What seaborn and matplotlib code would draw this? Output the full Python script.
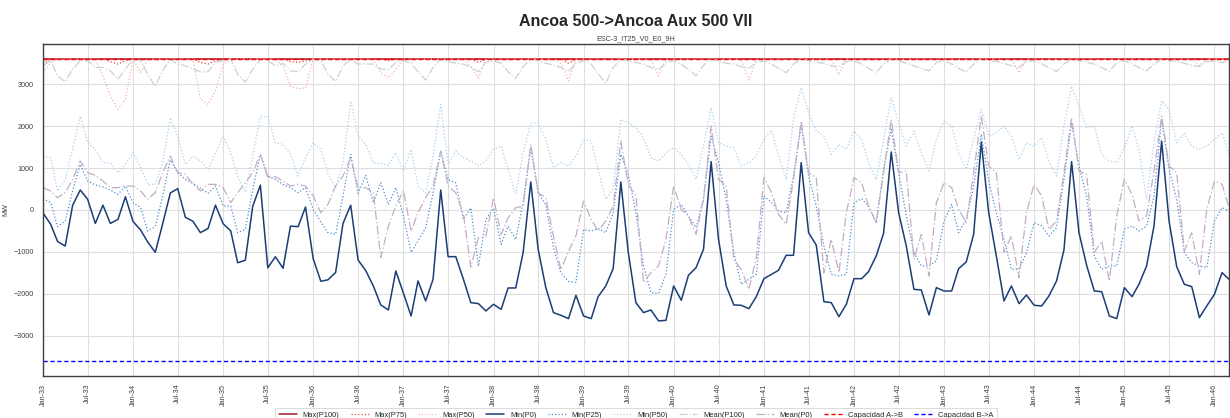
import matplotlib
matplotlib.use("Agg")
import matplotlib.pyplot as plt
import matplotlib.dates as mdates
import pandas as pd
import seaborn as sns

# ---------------- data (MW, monthly Jan-2033 .. Mar-2046) ----------------
start_month = "2033-01-01"
n_months = 159

title = "Ancoa 500->Ancoa Aux 500 VII"
subtitle = "ESC-3_IT25_V0_E0_9H"
y_label = "MW"

cap_ab = 3600
cap_ba = -3600

max_p100 = [
    3600, 3600, 3600, 3600, 3600, 3600, 3600, 3600, 3600, 3600, 3600, 3600,
    3600, 3600, 3600, 3600, 3600, 3600, 3600, 3600, 3600, 3600, 3600, 3600,
    3600, 3600, 3600, 3600, 3600, 3600, 3600, 3600, 3600, 3600, 3600, 3600,
    3600, 3600, 3600, 3600, 3600, 3600, 3600, 3600, 3600, 3600, 3600, 3600,
    3600, 3600, 3600, 3600, 3600, 3600, 3600, 3600, 3600, 3600, 3600, 3600,
    3600, 3600, 3600, 3600, 3600, 3600, 3600, 3600, 3600, 3600, 3600, 3600,
    3600, 3600, 3600, 3600, 3600, 3600, 3600, 3600, 3600, 3600, 3600, 3600,
    3600, 3600, 3600, 3600, 3600, 3600, 3600, 3600, 3600, 3600, 3600, 3600,
    3600, 3600, 3600, 3600, 3600, 3600, 3600, 3600, 3600, 3600, 3600, 3600,
    3600, 3600, 3600, 3600, 3600, 3600, 3600, 3600, 3600, 3600, 3600, 3600,
    3600, 3600, 3600, 3600, 3600, 3600, 3600, 3600, 3600, 3600, 3600, 3600,
    3600, 3600, 3600, 3600, 3600, 3600, 3600, 3600, 3600, 3600, 3600, 3600,
    3600, 3600, 3600, 3600, 3600, 3600, 3600, 3600, 3600, 3600, 3600, 3600,
    3600, 3600, 3600,
]

max_p75 = [
    3480, 3600, 3600, 3600, 3600, 3600, 3600, 3600, 3600, 3540, 3480, 3560,
    3600, 3600, 3600, 3600, 3600, 3600, 3600, 3600, 3600, 3520, 3480, 3560,
    3600, 3600, 3600, 3600, 3600, 3600, 3600, 3600, 3600, 3540, 3520, 3560,
    3600, 3600, 3600, 3600, 3600, 3600, 3600, 3600, 3600, 3600, 3560, 3600,
    3600, 3600, 3600, 3600, 3600, 3600, 3600, 3600, 3600, 3600, 3520, 3600,
    3600, 3600, 3600, 3600, 3600, 3600, 3600, 3600, 3600, 3600, 3500, 3600,
    3600, 3600, 3600, 3600, 3600, 3600, 3600, 3600, 3600, 3600, 3600, 3600,
    3600, 3600, 3600, 3600, 3600, 3600, 3600, 3600, 3600, 3600, 3600, 3600,
    3600, 3600, 3600, 3600, 3600, 3600, 3600, 3600, 3600, 3600, 3600, 3600,
    3600, 3600, 3600, 3600, 3600, 3600, 3600, 3600, 3600, 3600, 3600, 3600,
    3600, 3600, 3600, 3600, 3600, 3600, 3600, 3600, 3600, 3600, 3600, 3600,
    3600, 3600, 3600, 3600, 3600, 3600, 3600, 3600, 3600, 3600, 3600, 3600,
    3600, 3600, 3600, 3600, 3600, 3600, 3600, 3600, 3600, 3600, 3600, 3600,
    3600, 3600, 3600,
]

max_p50 = [
    3275, 3510, 3600, 3600, 3600, 3600, 3600, 3600, 3195, 2718, 2400, 2639,
    3600, 3280, 3600, 3600, 3600, 3600, 3600, 3600, 3600, 2640, 2520, 2837,
    3470, 3600, 3600, 3600, 3600, 3600, 3600, 3600, 3430, 2950, 2890, 2916,
    3600, 3600, 3600, 3600, 3600, 3600, 3600, 3600, 3600, 3275, 3155, 3355,
    3600, 3600, 3600, 3600, 3600, 3600, 3600, 3600, 3600, 3430, 3150, 3600,
    3600, 3600, 3600, 3600, 3600, 3600, 3600, 3600, 3600, 3500, 3080, 3600,
    3600, 3600, 3600, 3600, 3600, 3600, 3600, 3600, 3600, 3600, 3200, 3600,
    3600, 3600, 3600, 3600, 3600, 3600, 3600, 3600, 3600, 3600, 3100, 3600,
    3600, 3600, 3600, 3600, 3600, 3600, 3600, 3600, 3600, 3600, 3230, 3600,
    3600, 3600, 3600, 3600, 3600, 3600, 3600, 3600, 3600, 3600, 3600, 3600,
    3600, 3600, 3600, 3600, 3600, 3600, 3600, 3600, 3600, 3600, 3270, 3600,
    3600, 3600, 3600, 3600, 3600, 3600, 3600, 3600, 3600, 3600, 3600, 3600,
    3600, 3600, 3600, 3600, 3600, 3600, 3600, 3600, 3600, 3600, 3440, 3600,
    3600, 3600, 3600,
]

min_p0 = [
    -70, -340, -750, -860, 110, 478, 255, -320, 115, -320, -223, 315,
    -275, -480, -760, -1010, -330, 405, 510, -175, -270, -540, -440, 115,
    -327, -500, -1258, -1200, 88, 593, -1380, -1115, -1390, -385, -397, 72,
    -1160, -1700, -1665, -1490, -320, 115, -1193, -1445, -1814, -2265, -2385, -1455,
    -1987, -2528, -1693, -2170, -1653, 477, -1113, -1113, -1653, -2210, -2234, -2408,
    -2250, -2369, -1860, -1860, -1017, 668, -938, -1852, -2448, -2512, -2591, -2035,
    -2528, -2591, -2067, -1812, -1400, 668, -1000, -2210, -2448, -2385, -2647, -2631,
    -1812, -2154, -1558, -1375, -938, 1153, -700, -1812, -2265, -2273, -2353, -2067,
    -1638, -1534, -1439, -1081, -1081, 1129, -541, -835, -2186, -2210, -2544, -2250,
    -1638, -1638, -1471, -1097, -556, 1383, -64, -859, -1892, -1908, -2504, -1852,
    -1932, -1932, -1400, -1240, -580, 1622, -64, -1097, -2170, -1812, -2234, -2027,
    -2273, -2289, -2051, -1693, -954, 1153, -541, -1320, -1932, -1948, -2528, -2591,
    -1852, -2067, -1773, -1335, -382, 1645, -262, -1351, -1773, -1828, -2567, -2289,
    -2011, -1494, -1653,
]

min_p25 = [
    270, 175, -397, -262, 453, 1089, 692, 596, 548, 477, 374, 572,
    175, 56, -500, -397, 334, 1192, 890, 731, 636, 517, 397, 572,
    95, 95, -540, -461, 477, 1327, 811, 731, 612, 533, 413, 533,
    16, -286, -540, -580, 334, 1327, 397, 827, 175, 652, 135, 533,
    -143, -1010, -740, -420, 411, 1407, 720, 650, -225, 52, -1340, -225,
    40, -822, -385, -703, 175, 1480, 413, 120, -900, -1503, -1703, -1727,
    -467, -500, -445, -541, -64, 1327, 850, -64, -1335, -1971, -1987, -1534,
    16, 135, -143, -421, 254, 1765, 1129, 254, -1017, -1773, -1653, -1534,
    334, 175, -24, -64, 811, 2043, 811, 95, -859, -1534, -1574, -1534,
    175, 270, 95, -302, 970, 1924, 890, -143, -1017, -1335, -1335, -1216,
    -262, 135, -541, -223, 572, 1804, 692, -64, -700, -1415, -1415, -1017,
    -302, -382, -620, -421, 731, 2083, 1049, 334, -1097, -1415, -1335, -1335,
    -461, -382, -500, -382, 334, 2162, 970, 254, -1017, -1256, -1335, -1375,
    -262, 56, -24,
]

min_p50 = [
    1288, 1248, 453, 731, 1447, 2242, 1606, 1447, 1129, 1129, 890, 1089,
    1367, 1010, 612, 612, 1129, 2202, 1765, 1089, 1288, 1169, 970, 1367,
    1765, 1367, 811, 413, 1288, 2226, 2226, 1606, 1566, 1327, 811, 1248,
    1606, 1447, 850, 533, 1129, 2600, 1765, 1566, 1129, 1113, 1065, 1367,
    930, 1447, 572, 413, 1288, 2520, 1089, 1407, 1248, 1169, 1049, 1169,
    1447, 1526, 970, 374, 1367, 2067, 2083, 1685, 1010, 1129, 1049, 1288,
    1685, 1645, 970, 254, 493, 2162, 2083, 1963, 1725, 1248, 1169, 1367,
    1486, 1327, 1089, 731, 1526, 2440, 1606, 1526, 1486, 1049, 1129, 1288,
    1685, 1908, 1288, 731, 2162, 2917, 2321, 1884, 1765, 1327, 1566, 1447,
    1884, 1685, 1129, 731, 1685, 2679, 2083, 1526, 1884, 1367, 930, 1685,
    2122, 2003, 1367, 970, 1685, 2401, 1765, 1844, 2003, 1765, 1208, 1606,
    1526, 1725, 1169, 811, 2003, 2957, 2480, 1963, 2003, 1327, 1169, 1129,
    1486, 2003, 1447, 254, 1606, 2600, 2401, 1606, 1844, 1526, 1447, 1526,
    1685, 1844, 1327,
]

mean_p100 = [
    3440, 3560, 3200, 3057, 3361, 3560, 3560, 3400, 3400, 3320, 3122, 3361,
    3600, 3560, 3241, 2950, 3320, 3600, 3481, 3440, 3361, 3297, 3297, 3521,
    3560, 3600, 3241, 3050, 3361, 3600, 3560, 3440, 3500, 3320, 3300, 3480,
    3600, 3560, 3241, 3070, 3440, 3600, 3481, 3481, 3481, 3361, 3355, 3521,
    3560, 3500, 3300, 3100, 3400, 3600, 3550, 3500, 3480, 3400, 3300, 3520,
    3560, 3500, 3300, 3140, 3420, 3600, 3560, 3500, 3460, 3400, 3300, 3500,
    3560, 3480, 3250, 3030, 3400, 3600, 3560, 3520, 3480, 3400, 3350, 3520,
    3560, 3480, 3350, 3205, 3450, 3600, 3560, 3500, 3480, 3420, 3380, 3520,
    3560, 3480, 3380, 3275, 3480, 3600, 3560, 3520, 3500, 3440, 3420, 3540,
    3560, 3480, 3380, 3280, 3480, 3600, 3560, 3500, 3440, 3380, 3320, 3520,
    3560, 3480, 3380, 3297, 3480, 3600, 3560, 3540, 3500, 3440, 3400, 3540,
    3560, 3480, 3400, 3305, 3480, 3600, 3560, 3520, 3480, 3400, 3310, 3520,
    3560, 3480, 3400, 3320, 3480, 3600, 3560, 3540, 3500, 3450, 3420, 3540,
    3560, 3520, 3560,
]

mean_p0 = [
    533, 453, 294, 413, 731, 1169, 890, 827, 692, 533, 533, 572,
    572, 453, 254, 413, 890, 1288, 890, 850, 612, 453, 612, 612,
    533, 175, 413, 652, 890, 1327, 771, 795, 692, 572, 612, 572,
    334, -64, 135, 572, 811, 1248, 533, 533, 413, -1137, -382, 95,
    460, -505, -64, 300, 572, 1407, 572, 411, -103, -1360, -660, -627,
    292, -586, -187, 52, 92, 1567, 411, 292, -626, -1424, -985, -620,
    211, -223, -500, -262, 95, 1645, 600, 350, -1733, -1494, -1335, -700,
    572, 16, -143, -580, 254, 2003, 731, 572, -1176, -1415, -1892, -1137,
    771, 413, -103, -342, 731, 2122, 890, 771, -1494, -700, -1494, -64,
    771, 652, 95, -302, 890, 2162, 890, 930, -1176, -580, -1574, 175,
    652, 533, 16, -302, 890, 2242, 1049, 890, -1017, -620, -1614, -64,
    612, 334, -461, -262, 890, 2202, 930, 850, -1017, -740, -1693, -143,
    731, 374, -262, -143, 930, 2242, 1049, 890, -978, -541, -1534, 16,
    692, 612, 56,
]

series_names = ["Max(P100)", "Max(P75)", "Max(P50)", "Min(P0)", "Min(P25)",
                "Min(P50)", "Mean(P100)", "Mean(P0)"]
series_values = [max_p100, max_p75, max_p50, min_p0, min_p25,
                 min_p50, mean_p100, mean_p0]
series_colors = ["#a2182c", "#e8493f", "#f6b3a8", "#1b3d75", "#4d8fd0",
                 "#a9d0ef", "#c9d2d2", "#c4adc6"]
series_styles = ["-", ":", ":", "-", ":", ":", "-.", (0, (7, 2, 1, 2))]
series_widths = [1.1, 0.9, 0.9, 1.1, 0.9, 0.9, 0.9, 0.9]

# ---------------- plotting ----------------
sns.set_style("whitegrid", {"axes.edgecolor": "0.25", "grid.color": "0.88"})
plt.rcParams["font.family"] = ["Liberation Sans", "DejaVu Sans"]

dates = pd.date_range(start_month, periods=n_months, freq="MS")

fig = plt.figure(figsize=(12.3, 4.18), dpi=100)
ax = fig.add_axes([43 / 1230, 1 - 376 / 418, (1229 - 43) / 1230, (376 - 44) / 418])

for name, vals, col, ls, lw in zip(series_names, series_values, series_colors,
                                   series_styles, series_widths):
    df = pd.DataFrame({"date": dates, "value": vals})
    sns.lineplot(data=df, x="date", y="value", ax=ax, color=col, linestyle=ls,
                 linewidth=lw, label=name)

ax.axhline(cap_ab, color="#ff0000", linestyle="--", linewidth=1.0,
           dashes=(3, 2), label="Capacidad A->B")
ax.axhline(cap_ba, color="#0000ff", linestyle="--", linewidth=1.0,
           dashes=(3, 2), label="Capacidad B->A")

ax.set_xlim(dates[0], dates[-1])
ax.set_ylim(-3960, 3960)
ax.set_yticks([-3000, -2000, -1000, 0, 1000, 2000, 3000])
ax.xaxis.set_major_locator(mdates.MonthLocator(bymonth=(1, 7)))
ax.xaxis.set_major_formatter(mdates.DateFormatter("%b-%y"))
ax.tick_params(axis="x", labelsize=5.2, rotation=90, colors="0.25", pad=2)
ax.tick_params(axis="y", labelsize=5.2, colors="0.25", pad=3)
ax.set_xlabel("")
ax.set_ylabel(y_label, fontsize=5.2, color="0.25", labelpad=3)
ax.grid(True, color="0.87", linewidth=0.8)
for sp in ax.spines.values():
    sp.set_linewidth(1.0)
    sp.set_color("0.25")

ax.set_title(subtitle, fontsize=5.2, color="0.25", pad=2.5)
fig.text(0.5 * (43 + 1229) / 1230, 1 - 21 / 418, title, ha="center", va="center",
         fontsize=11.5, fontweight="bold", color="0.15")

leg = ax.legend(loc="upper center", bbox_to_anchor=(0.5, -0.084), ncol=10,
                fontsize=5.4, frameon=True, fancybox=False, handlelength=2.4,
                columnspacing=1.5, borderpad=0.5, edgecolor="0.8")
leg.get_frame().set_linewidth(0.6)

fig.savefig("out.png", dpi=100)
